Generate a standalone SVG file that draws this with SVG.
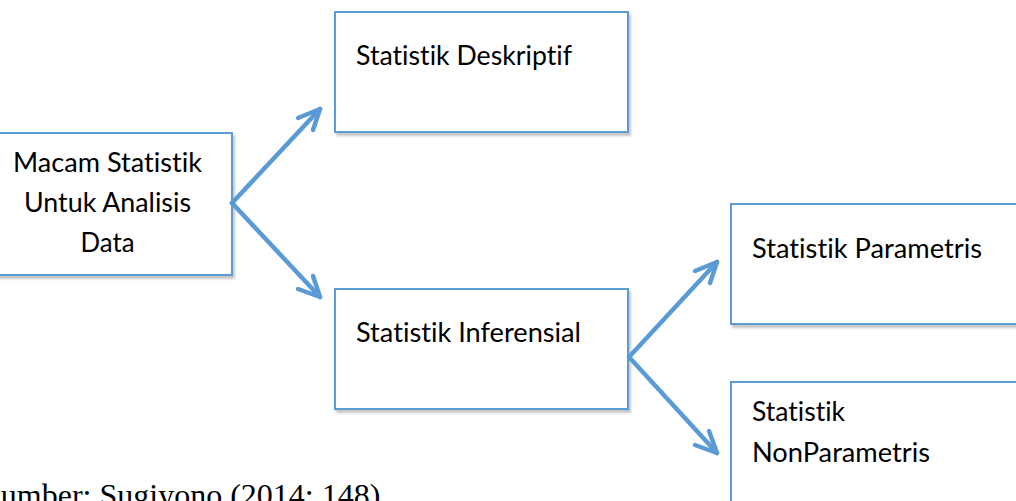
<svg xmlns="http://www.w3.org/2000/svg" width="1016" height="501" viewBox="0 0 1016 501">
  <style>
    .box { fill: #ffffff; stroke: #5b9bd5; stroke-width: 2; filter: url(#shadow); }
    .label { font-family: Lato, "Liberation Sans", sans-serif; font-size: 27px; fill: #000000; font-variant-ligatures: none; font-feature-settings: "liga" 0, "clig" 0; }
    .mid { text-anchor: middle; }
    .link { fill: none; stroke: #5b9bd5; stroke-width: 4.5; stroke-linecap: round; stroke-linejoin: round; }
    .caption { font-family: "Liberation Serif", serif; font-size: 32px; fill: #000000; }
  </style>
  <defs>
    <filter id="shadow" x="-10%" y="-10%" width="130%" height="130%">
      <feDropShadow dx="2" dy="3" stdDeviation="1.2" flood-color="#000000" flood-opacity="0.22"/>
    </filter>
  </defs>
  <rect width="1016" height="501" fill="#ffffff"/>

  <g id="node-macam">
    <rect class="box" x="-10" y="133" width="242" height="142"/>
    <text class="label mid" x="107.5" y="172" textLength="189" lengthAdjust="spacingAndGlyphs">Macam Statistik</text>
    <text class="label mid" x="107.5" y="212" textLength="167" lengthAdjust="spacingAndGlyphs">Untuk Analisis</text>
    <text class="label mid" x="107.5" y="252" textLength="54" lengthAdjust="spacingAndGlyphs">Data</text>
  </g>

  <g id="node-deskriptif">
    <rect class="box" x="335" y="12" width="293" height="120"/>
    <text class="label" x="356" y="65" textLength="216" lengthAdjust="spacingAndGlyphs">Statistik Deskriptif</text>
  </g>

  <g id="node-inferensial">
    <rect class="box" x="335" y="289" width="293" height="120"/>
    <text class="label" x="356" y="342" textLength="225" lengthAdjust="spacingAndGlyphs">Statistik Inferensial</text>
  </g>

  <g id="node-parametris">
    <rect class="box" x="731" y="204" width="300" height="120"/>
    <text class="label" x="752" y="258" textLength="230" lengthAdjust="spacingAndGlyphs">Statistik Parametris</text>
  </g>

  <g id="node-nonparametris">
    <rect class="box" x="731" y="382" width="300" height="140"/>
    <text class="label" x="752" y="421" textLength="93" lengthAdjust="spacingAndGlyphs">Statistik</text>
    <text class="label" x="752" y="462" textLength="178" lengthAdjust="spacingAndGlyphs">NonParametris</text>
  </g>

  <g id="connectors">
    <!-- Macam Statistik -> Deskriptif -->
    <line class="link" x1="232" y1="203" x2="320" y2="109"/>
    <polyline class="link" points="298,118 320,109 313,130"/>
    <!-- Macam Statistik -> Inferensial -->
    <line class="link" x1="232" y1="203" x2="320" y2="297"/>
    <polyline class="link" points="298,289 320,297 313,276"/>
    <!-- Inferensial -> Parametris -->
    <line class="link" x1="629" y1="357" x2="717" y2="262"/>
    <polyline class="link" points="695,271 717,262 710,283"/>
    <!-- Inferensial -> NonParametris -->
    <line class="link" x1="629" y1="357" x2="717" y2="453"/>
    <polyline class="link" points="695,445 717,453 709,431"/>
  </g>

  <text class="caption" x="-17" y="506">Sumber: Sugiyono (2014: 148)</text>
</svg>
